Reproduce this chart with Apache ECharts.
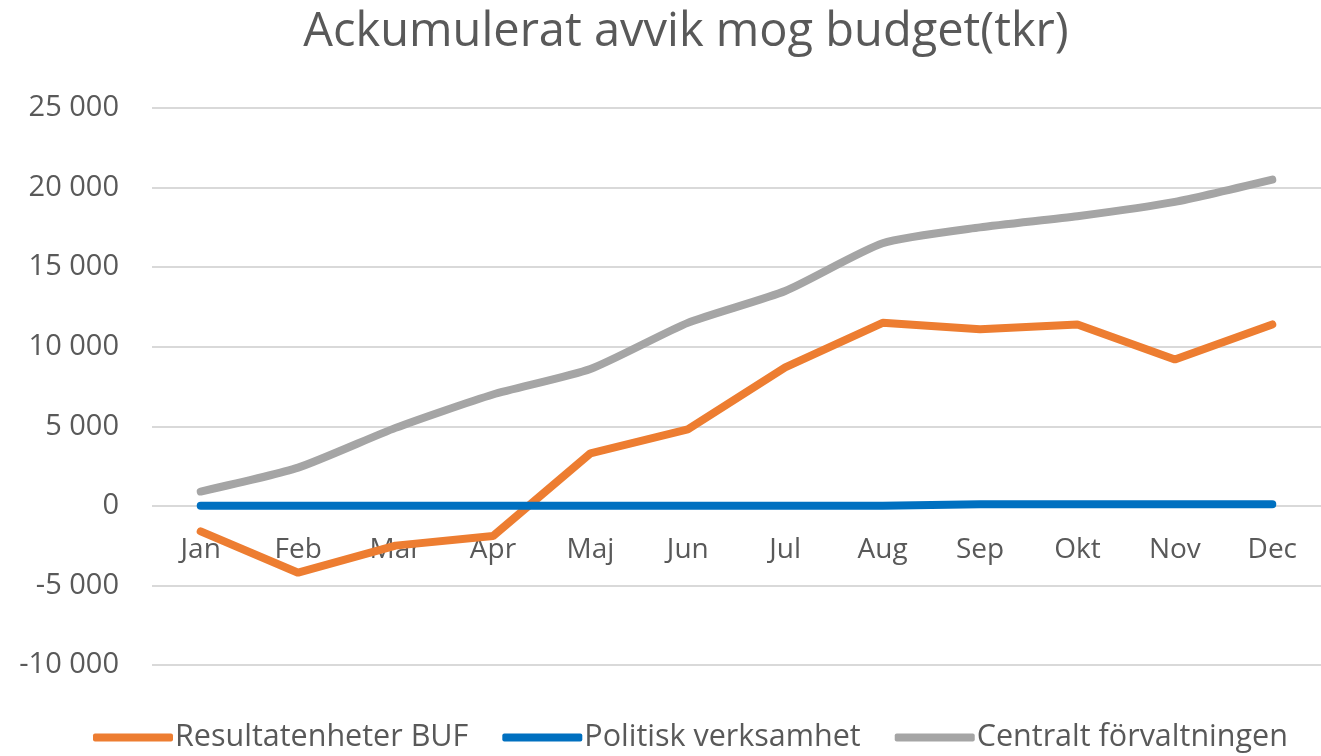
<!DOCTYPE html>
<html>
<head>
<meta charset="utf-8">
<script src="https://cdn.jsdelivr.net/npm/echarts@6/dist/echarts.min.js"></script>
<style>
  html, body { margin: 0; padding: 0; background: #fff; }
  #chart { width: 1321px; height: 756px; }
</style>
</head>
<body>
<div id="chart"></div>
<script>
var months = ['Jan', 'Feb', 'Mar', 'Apr', 'Maj', 'Jun', 'Jul', 'Aug', 'Sep', 'Okt', 'Nov', 'Dec'];
var resultatenheter = [-1600, -4200, -2500, -1900, 3300, 4800, 8700, 11500, 11100, 11400, 9200, 11400];
var politisk = [0, 0, 0, 0, 0, 0, 0, 0, 100, 100, 100, 100];
var centralt = [900, 2400, 4900, 7000, 8600, 11500, 13500, 16500, 17500, 18200, 19100, 20500];

var textColor = '#595959';
var fontName = 'Open Sans';

// "25 000" style thousands separator
function fmt(v) {
  var s = Math.abs(v).toString().replace(/\B(?=(\d{3})+(?!\d))/g, ' ');
  return (v < 0 ? '-' : '') + s;
}

function lineSeries(name, data, color, smooth) {
  return {
    name: name,
    type: 'line',
    data: data,
    smooth: smooth,
    symbol: 'none',
    lineStyle: { width: 8, color: color, cap: 'round' },
    itemStyle: { color: color }
  };
}

var yMin = -10000, yMax = 25000;
var gridTop = 108, gridBottom = 91, chartH = 756;
// move the category axis up to the zero line (Excel style)
var plotH = chartH - gridTop - gridBottom;
var zeroOffset = -plotH * (0 - yMin) / (yMax - yMin);

var chart = echarts.init(document.getElementById('chart'));
chart.setOption({
  backgroundColor: '#FFFFFF',
  animation: false,
  title: {
    text: 'Ackumulerat avvik mog budget(tkr)',
    left: 681,
    textAlign: 'center',
    top: 4,
    textStyle: { color: textColor, fontSize: 47, fontWeight: 'normal', fontFamily: fontName }
  },
  legend: {
    bottom: -2,
    left: 88,
    itemWidth: 80,
    itemHeight: 8,
    itemGap: 34,
    icon: 'roundRect',
    textStyle: { color: textColor, fontSize: 30.5, fontFamily: fontName, padding: [0, 0, 0, -3] },
    data: ['Resultatenheter BUF', 'Politisk verksamhet', 'Centralt förvaltningen']
  },
  grid: { left: 152, right: -11, top: gridTop, bottom: gridBottom },
  xAxis: {
    type: 'category',
    data: months,
    boundaryGap: true,
    position: 'bottom',
    offset: zeroOffset,
    axisLine: { show: false, onZero: false },
    axisTick: { show: false },
    axisLabel: { color: textColor, fontSize: 28, fontFamily: fontName, margin: 30 }
  },
  yAxis: {
    type: 'value',
    min: yMin,
    max: yMax,
    interval: 5000,
    axisLine: { show: false },
    axisTick: { show: false },
    splitLine: { lineStyle: { color: '#D9D9D9', width: 2 } },
    axisLabel: { color: textColor, fontSize: 29, fontFamily: fontName, margin: 33, formatter: fmt }
  },
  series: [
    lineSeries('Resultatenheter BUF', resultatenheter, '#ED7D31', false),
    lineSeries('Politisk verksamhet', politisk, '#0070C0', false),
    lineSeries('Centralt förvaltningen', centralt, '#A5A5A5', 0.2)
  ]
});
</script>
</body>
</html>
